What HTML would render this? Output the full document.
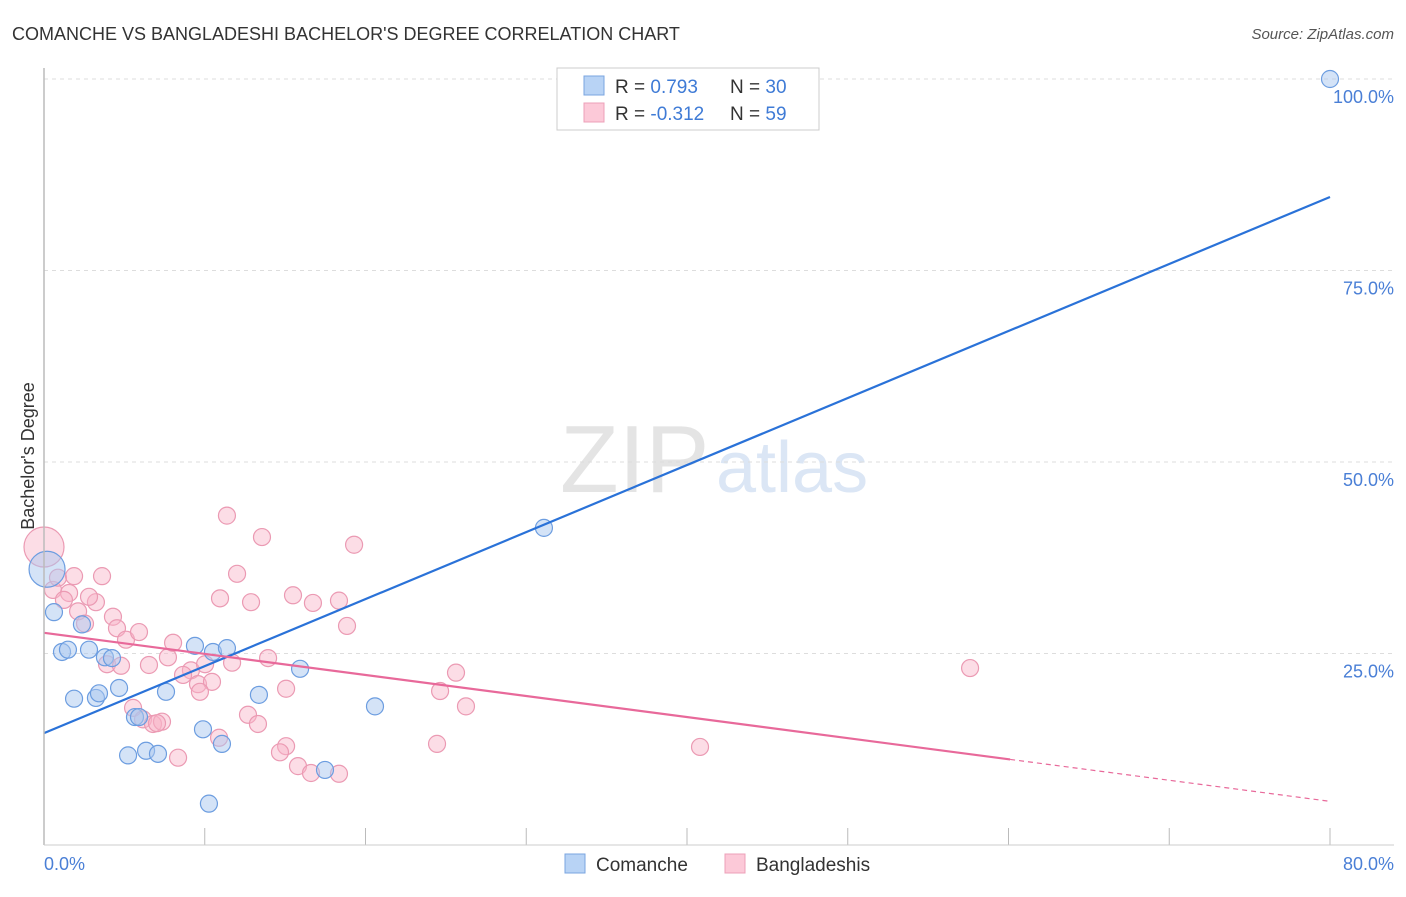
<!DOCTYPE html>
<html><head><meta charset="utf-8"><style>
body{margin:0;background:#fff;font-family:"Liberation Sans",sans-serif;}
svg text{font-family:"Liberation Sans",sans-serif;}
</style></head><body>
<svg width="1406" height="892" viewBox="0 0 1406 892" id="chart">
<text x="12" y="40" font-size="18" fill="#333">COMANCHE VS BANGLADESHI BACHELOR'S DEGREE CORRELATION CHART</text>
<text x="1394" y="39" font-size="15" fill="#555" text-anchor="end" font-style="italic">Source: ZipAtlas.com</text>
<text x="560" y="492" font-size="96" fill="#e4e4e4" font-family="Liberation Serif">ZIP</text>
<text x="716" y="492" font-size="72" fill="#dbe6f5">atlas</text>
<text transform="translate(34,456) rotate(-90)" font-size="18" fill="#333" text-anchor="middle">Bachelor's Degree</text>
<g id="grid"></g><g id="ticks"></g><g id="pts"></g><g id="lines"></g>
<line x1="44" y1="68" x2="44" y2="845" stroke="#bbb" stroke-width="1.5"/>
<line x1="44" y1="845" x2="1394" y2="845" stroke="#ccc"/>
<text x="44" y="870" font-size="18" fill="#4a7fd6">0.0%</text>
<text x="1394" y="870" font-size="18" fill="#4a7fd6" text-anchor="end">80.0%</text>
<g>
<rect x="557" y="68" width="262" height="62" fill="#fff" stroke="#ccc"/>
<rect x="584" y="76" width="20" height="19" fill="#b8d3f5" stroke="#7aa5e0"/>
<rect x="584" y="103" width="20" height="19" fill="#fcc9d8" stroke="#eda0b8"/>
<text x="615" y="93" font-size="19" fill="#333">R = <tspan fill="#3f7bd6"> 0.793</tspan><tspan x="730">N = </tspan><tspan fill="#3f7bd6">30</tspan></text>
<text x="615" y="120" font-size="19" fill="#333">R = <tspan fill="#3f7bd6">-0.312</tspan><tspan x="730">N = </tspan><tspan fill="#3f7bd6">59</tspan></text>
</g>
<g>
<rect x="565" y="854" width="20" height="19" fill="#b8d3f5" stroke="#7aa5e0"/>
<text x="596" y="871" font-size="19" fill="#333">Comanche</text>
<rect x="725" y="854" width="20" height="19" fill="#fcc9d8" stroke="#eda0b8"/>
<text x="756" y="871" font-size="19" fill="#333">Bangladeshis</text>
</g>
</svg>
<script>
const yTicks=[25,50,75,100];
const yTickLabels=["25.0%","50.0%","75.0%","100.0%"];
const xTicks=[0,10,20,30,40,50,60,70,80];
const comancheX=[80,31.1,0.19,0.62,2.36,1.12,1.49,2.8,3.79,4.23,9.39,10.51,11.38,15.93,1.87,3.23,3.42,4.67,7.59,13.37,20.59,5.66,5.91,9.89,11.07,5.23,6.35,7.09,17.48,10.26];
const comancheY=[100,41.4,36,30.4,28.8,25.2,25.5,25.5,24.5,24.4,26,25.2,25.7,23,19.1,19.2,19.8,20.5,20,19.6,18.1,16.7,16.7,15.1,13.2,11.7,12.3,11.9,9.8,5.4];
const bangX=[0,0.56,0.87,1.87,3.61,1.56,1.24,3.23,2.12,2.8,4.29,2.55,4.54,5.1,5.91,3.92,4.79,6.53,7.71,8.03,11.38,13.56,12.01,10.95,12.88,15.49,16.73,18.35,19.29,18.85,9.14,8.65,9.58,10.02,10.45,11.7,13.94,9.7,15.06,5.54,6.16,6.78,7.34,7.03,10.89,12.69,13.31,15.06,14.68,15.8,16.61,18.35,8.34,24.64,25.63,26.25,24.45,40.81,57.61];
const bangY=[38.9,33.3,34.9,35.1,35.1,32.9,32,31.7,30.5,32.4,29.8,28.9,28.3,26.8,27.8,23.6,23.4,23.5,24.5,26.4,43,40.2,35.4,32.2,31.7,32.6,31.6,31.9,39.2,28.6,22.8,22.2,21,23.6,21.3,23.8,24.4,20,20.4,17.9,16.4,15.8,16.1,15.9,14,17,15.8,12.9,12.1,10.3,9.4,9.3,11.4,20.1,22.5,18.1,13.2,12.8,23.1];
const comancheFit=[14.6,84.6];
const bangFit=[27.7,5.7];
const bangSolidEnd=60.1;
const NS='http://www.w3.org/2000/svg';
const sx=v=>44+v/80*1286, sy=v=>845-v/100*766;
function mk(t,a,p){const e=document.createElementNS(NS,t);for(const k in a)e.setAttribute(k,a[k]);p.appendChild(e);return e;}
const grid=document.getElementById('grid'),ticks=document.getElementById('ticks'),pts=document.getElementById('pts'),lines=document.getElementById('lines');
yTicks.forEach((v,i)=>{
const l=mk('line',{x1:44,x2:1394,y1:sy(v),y2:sy(v),stroke:'#ddd','stroke-dasharray':'4,4'},grid);


const t=mk('text',{x:1394,y:sy(v)+24,'font-size':18,fill:'#4a7fd6','text-anchor':'end'},ticks);
t.textContent=yTickLabels[i];


});
xTicks.forEach(v=>{
const l=mk('line',{x1:sx(v),x2:sx(v),y1:828,y2:845,stroke:'#bbb'},ticks);


});
function dot(x,y,fill,stroke,r){
const c=mk('circle',{cx:sx(x),cy:sy(y),r:r,fill:fill,stroke:stroke,'stroke-width':1.2},pts);
return c;}
bangX.forEach((x,i)=>{
const c=dot(x,bangY[i],'rgba(248,180,200,0.45)','#eb9ab3',i==0?20:8.5);


});
comancheX.forEach((x,i)=>{
const c=dot(x,comancheY[i],'rgba(170,200,240,0.5)','#6c9de0',i==2?18:8.5);


});
const bl=mk('line',{x1:sx(0),y1:sy(comancheFit[0]),x2:sx(80),y2:sy(comancheFit[1]),stroke:'#2a72d8','stroke-width':2.2},lines);


const by=x=>bangFit[0]+(bangFit[1]-bangFit[0])*x/80;
const pl=mk('line',{x1:sx(0),y1:sy(bangFit[0]),x2:sx(bangSolidEnd),y2:sy(by(bangSolidEnd)),stroke:'#e8699a','stroke-width':2.2},lines);


const pd=mk('line',{x1:sx(bangSolidEnd),y1:sy(by(bangSolidEnd)),x2:sx(80),y2:sy(bangFit[1]),stroke:'#e8699a','stroke-width':1.2,'stroke-dasharray':'5,4'},lines);


</script>
</body></html>
